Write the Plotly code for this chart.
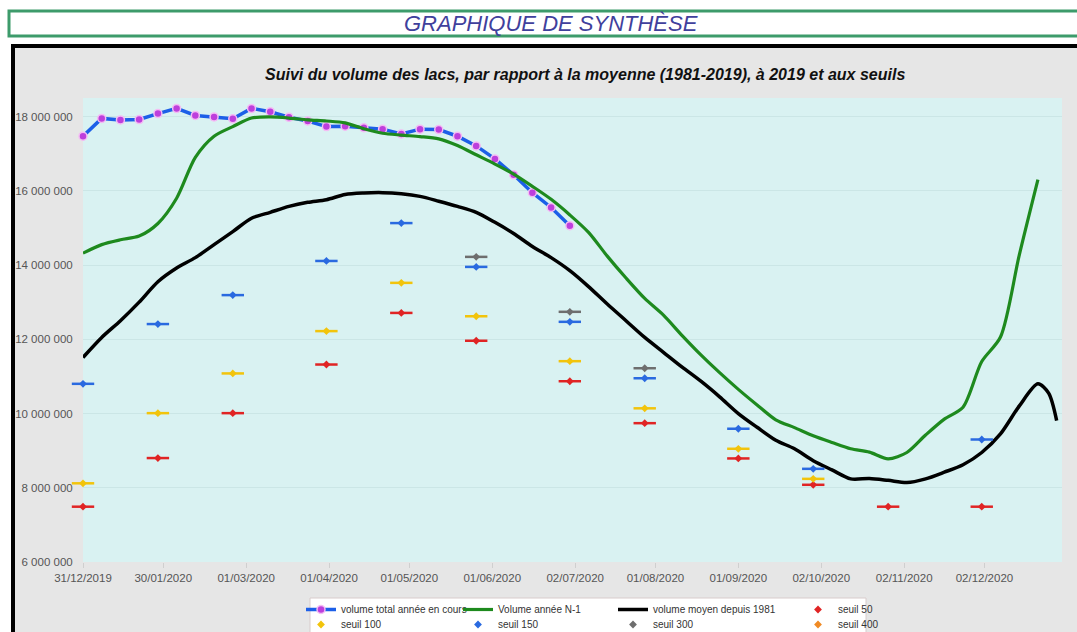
import plotly.graph_objects as go
import pandas as pd

# ---------------- data ----------------
x_tick_dates = ["2019-12-31", "2020-01-30", "2020-03-01", "2020-04-01", "2020-05-01", "2020-06-01",
                "2020-07-02", "2020-08-01", "2020-09-01", "2020-10-02", "2020-11-02", "2020-12-02"]
x_tick_labels = ["31/12/2019", "30/01/2020", "01/03/2020", "01/04/2020", "01/05/2020", "01/06/2020",
                 "02/07/2020", "01/08/2020", "01/09/2020", "02/10/2020", "02/11/2020", "02/12/2020"]
y_tick_vals = [6e6, 8e6, 10e6, 12e6, 14e6, 16e6, 18e6]
y_tick_labels = ["6 000 000", "8 000 000", "10 000 000", "12 000 000", "14 000 000", "16 000 000", "18 000 000"]

# volume total année en cours (weekly, millions m3)
current_dates = pd.date_range("2019-12-31", periods=27, freq="7D")
current_vol = [17.47, 17.95, 17.91, 17.92, 18.08, 18.22, 18.03, 17.99, 17.94, 18.22, 18.13, 17.98,
               17.88, 17.73, 17.74, 17.70, 17.66, 17.53, 17.66, 17.65, 17.47, 17.21, 16.86, 16.43,
               15.95, 15.55, 15.06]

# Volume année N-1 (weekly)
prev_dates = pd.date_range("2019-12-31", periods=52, freq="7D")
prev_vol = [14.32, 14.55, 14.68, 14.78, 15.12, 15.80, 16.90, 17.47, 17.73, 17.96, 17.99, 17.96,
            17.91, 17.88, 17.83, 17.67, 17.55, 17.50, 17.46, 17.40, 17.22, 16.97, 16.72, 16.45,
            16.12, 15.77, 15.35, 14.88, 14.24, 13.65, 13.10, 12.65, 12.10, 11.58, 11.10, 10.65,
            10.23, 9.83, 9.62, 9.40, 9.22, 9.05, 8.96, 8.78, 8.95, 9.42, 9.85, 10.17, 11.40,
            12.06, 14.26, 16.30]

# volume moyen depuis 1981
mean_dates = list(pd.date_range("2019-12-31", periods=52, freq="7D")) + \
    [pd.Timestamp("2020-12-26"), pd.Timestamp("2020-12-29")]
mean_vol = [11.51, 12.05, 12.50, 13.00, 13.55, 13.92, 14.20, 14.55, 14.90, 15.26, 15.42, 15.58,
            15.69, 15.76, 15.90, 15.94, 15.95, 15.92, 15.85, 15.72, 15.58, 15.42, 15.15, 14.85,
            14.50, 14.20, 13.85, 13.42, 12.95, 12.50, 12.05, 11.65, 11.25, 10.87, 10.45, 10.00,
            9.63, 9.28, 9.05, 8.73, 8.48, 8.24, 8.25, 8.20, 8.14, 8.24, 8.42, 8.62, 8.95, 9.45,
            10.20, 10.80, 10.55, 9.81]

# seuils (monthly)
seuil_dates = ["2019-12-31", "2020-01-28", "2020-02-25", "2020-03-31", "2020-04-28", "2020-05-26",
               "2020-06-30", "2020-07-28", "2020-09-01", "2020-09-29", "2020-10-27", "2020-12-01"]
seuil_50 = [7.49, 8.80, 10.01, 11.32, 12.71, 11.96, 10.87, 9.74, 8.79, 8.08, 7.49, 7.49]
seuil_100 = [8.12, 10.01, 11.08, 12.22, 13.52, 12.62, 11.41, 10.14, 9.05, 8.24, None, None]
seuil_150 = [10.80, 12.41, 13.19, 14.11, 15.13, 13.95, 12.47, 10.95, 9.59, 8.51, None, 9.30]
seuil_300 = [None, None, None, None, None, 14.22, 12.74, 11.22, None, None, None, None]
seuil_400 = [None] * 12

# ---------------- layout helpers ----------------
W, H = 1077, 632
SL, SR, ST, SB = 83, 1062, 98, 562   # plot area on the page


def fx(px):
    return (px - SL) / (SR - SL)


def fy(py):
    return (SB - py) / (SB - ST)


def mil(vals):
    return [None if v is None else v * 1e6 for v in vals]


FONT = "Liberation Sans, Arial, sans-serif"

fig = go.Figure()

fig.add_trace(go.Scatter(
    x=current_dates, y=mil(current_vol), name="volume total année en cours",
    mode="lines+markers", line=dict(color="#1c5fe8", width=3.5), cliponaxis=False,
    marker=dict(size=8, color="#bd3fdc", line=dict(color="#f4bdf4", width=1.5)),
    legend="legend", legendwidth=112))
fig.add_trace(go.Scatter(
    x=prev_dates, y=mil(prev_vol), name="Volume année N-1", mode="lines",
    line=dict(color="#1e8a1e", width=3.2, shape="spline", smoothing=0.8),
    legend="legend", legendwidth=110))
fig.add_trace(go.Scatter(
    x=mean_dates, y=mil(mean_vol), name="volume moyen depuis 1981", mode="lines",
    line=dict(color="#000000", width=3.5, shape="spline", smoothing=0.8),
    legend="legend", legendwidth=140))

seuils = [
    ("seuil 50", seuil_50, "#e02424", "legend"),
    ("seuil 100", seuil_100, "#f2c40c", "legend2"),
    ("seuil 150", seuil_150, "#2a6ae0", "legend2"),
    ("seuil 300", seuil_300, "#6e6e6e", "legend2"),
    ("seuil 400", seuil_400, "#f08a24", "legend2"),
]
widths = {"seuil 50": 60, "seuil 100": 112, "seuil 150": 110, "seuil 300": 140, "seuil 400": 60}
for name, vals, col, lg in seuils:
    fig.add_trace(go.Scatter(
        x=seuil_dates, y=mil(vals), mode="markers", showlegend=False, hoverinfo="skip",
        cliponaxis=False,
        marker=dict(symbol="line-ew", size=16, line=dict(color=col, width=2.5)), legend=lg))
    fig.add_trace(go.Scatter(
        x=seuil_dates, y=mil(vals), mode="markers", name=name, cliponaxis=False,
        marker=dict(symbol="diamond", size=6, color=col, line=dict(width=0)),
        legend=lg, legendwidth=widths[name]))

shapes = [
    dict(type="rect", xref="paper", yref="paper", x0=fx(9), x1=fx(1095), y0=fy(36), y1=fy(11),
         line=dict(color="#3d9b6b", width=3), fillcolor="white", layer="below"),
    dict(type="rect", xref="paper", yref="paper", x0=fx(13), x1=fx(1100), y0=fy(720), y1=fy(46),
         line=dict(color="black", width=4), fillcolor="#e6e6e6", layer="below"),
    dict(type="rect", xref="paper", yref="paper", x0=0, x1=1, y0=0, y1=1,
         line=dict(width=0), fillcolor="#d9f2f2", layer="below"),
    dict(type="rect", xref="paper", yref="paper", x0=fx(310), x1=fx(866), y0=fy(650), y1=fy(598),
         line=dict(color="#d8cccc", width=1), fillcolor="white", layer="below"),
]

annotations = [
    dict(text="<i>GRAPHIQUE DE SYNTHÈSE</i>", xref="paper", yref="paper", x=fx(551), y=fy(23),
         xanchor="center", yanchor="middle", showarrow=False,
         font=dict(family=FONT, size=22, color="#40409c")),
    dict(text="<b><i>Suivi du volume des lacs, par rapport à la moyenne (1981-2019), à 2019 et aux seuils</i></b>",
         xref="paper", yref="paper", x=fx(585), y=fy(74), xanchor="center", yanchor="middle",
         showarrow=False, font=dict(family=FONT, size=16, color="#111111")),
]

fig.update_layout(
    width=W, height=H,
    margin=dict(l=SL, r=W - SR, t=ST, b=H - SB, autoexpand=False),
    paper_bgcolor="white", plot_bgcolor="#d9f2f2",
    shapes=shapes, annotations=annotations,
    font=dict(family=FONT, size=10, color="#4d4d4d"),
    xaxis=dict(type="date", range=["2019-12-31", "2020-12-31"], tickvals=x_tick_dates,
               ticktext=x_tick_labels, showgrid=False, zeroline=False, showline=False,
               ticks="outside", ticklen=5, tickcolor="#cfcfcf",
               tickfont=dict(family=FONT, size=11.5, color="#555555")),
    yaxis=dict(range=[6e6, 18.5e6], tickvals=y_tick_vals, ticktext=y_tick_labels,
               showgrid=True, gridcolor="#cbe6e6", gridwidth=1, zeroline=False, showline=False,
               ticks="outside", ticklen=7, tickcolor="rgba(0,0,0,0)",
               tickfont=dict(family=FONT, size=11.5, color="#555555")),
    legend=dict(orientation="h", x=fx(301), y=fy(595), xanchor="left", yanchor="top",
                bgcolor="rgba(0,0,0,0)", borderwidth=0, itemwidth=30,
                font=dict(family=FONT, size=10, color="#333333")),
    legend2=dict(orientation="h", x=fx(301), y=fy(610), xanchor="left", yanchor="top",
                 bgcolor="rgba(0,0,0,0)", borderwidth=0, itemwidth=30,
                 font=dict(family=FONT, size=10, color="#333333")),
    hovermode="closest",
)

fig.write_html("out.html", config={"displayModeBar": False},
               post_script="document.body.style.margin='0';document.body.style.overflow='hidden';")
